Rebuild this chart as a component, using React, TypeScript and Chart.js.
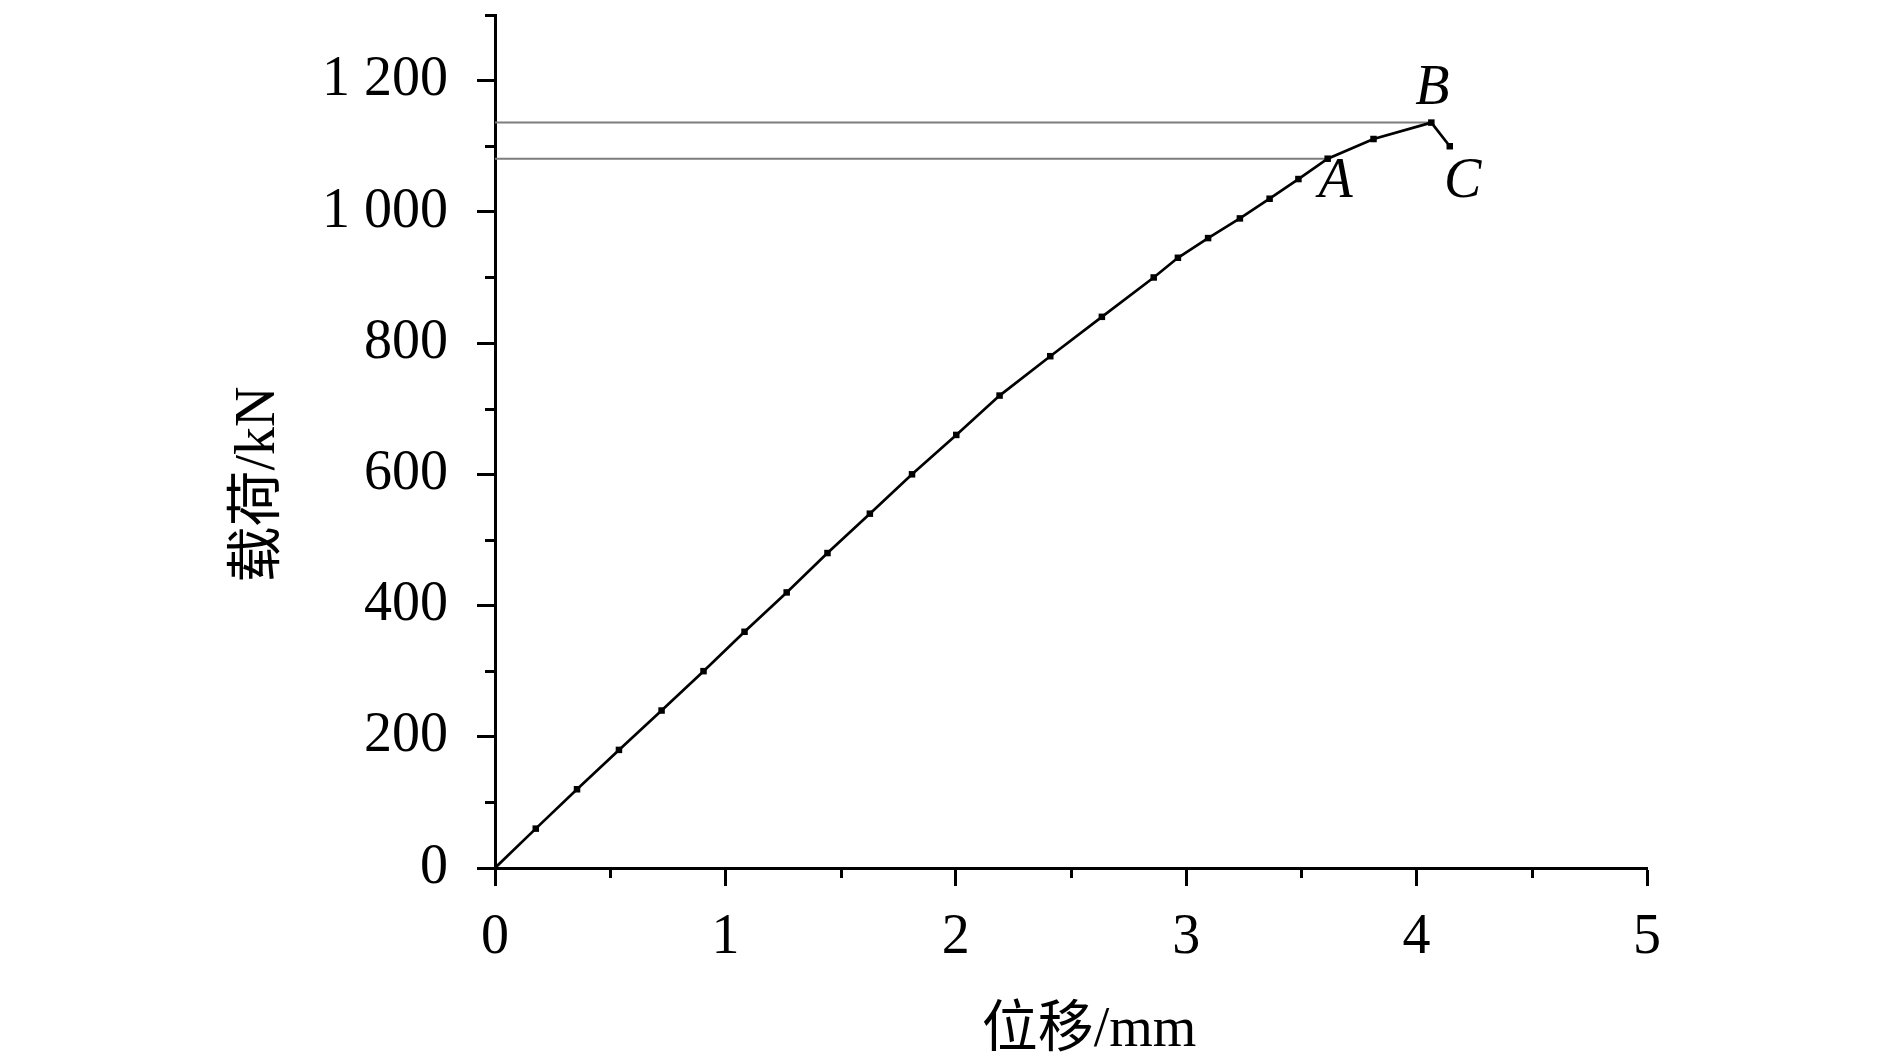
import React, { useEffect, useRef } from 'react';
import { Chart, registerables } from 'chart.js';

Chart.register(...registerables);

// ---- data ----
const displacement = [
  0, 0.177, 0.356, 0.538, 0.723, 0.905, 1.083, 1.266, 1.443, 1.627, 1.81, 2.002,
  2.19, 2.41, 2.634, 2.859, 2.964, 3.095, 3.233, 3.362, 3.487, 3.614, 3.813, 4.064, 4.144,
];
const load = [
  0, 60, 120, 180, 240, 300, 360, 420, 480, 540, 600, 660, 720, 780, 840, 900, 930,
  960, 990, 1020, 1050, 1081, 1111, 1136, 1100,
];
const xTickLabels = ['0', '1', '2', '3', '4', '5'];
const yTickLabels = ['0', '200', '400', '600', '800', '1 000', '1 200'];
const xMinorTicks = [0.5, 1.5, 2.5, 3.5, 4.5];
const yMinorTicks = [100, 300, 500, 700, 900, 1100, 1300];
const markLabels = ['A', 'B', 'C'];
const markIndices = [21, 23, 24];
const refLineIndices = [21, 23];
const xTitle = '位移/mm';
const yTitle = '载荷/kN';

const SERIF = '"Liberation Serif", "Times New Roman", "Noto Sans CJK SC", serif';

const decorPlugin = {
  id: 'decor',
  afterDraw(chart: any) {
    const { ctx, chartArea, scales } = chart;
    const x = scales.x;
    const y = scales.y;
    ctx.save();
    ctx.strokeStyle = '#000';
    ctx.lineWidth = 3;
    ctx.lineCap = 'butt';
    // minor ticks
    xMinorTicks.forEach((v) => {
      const px = Math.round(x.getPixelForValue(v)) + 0.5;
      ctx.beginPath();
      ctx.moveTo(px, chartArea.bottom);
      ctx.lineTo(px, chartArea.bottom + 10);
      ctx.stroke();
    });
    yMinorTicks.forEach((v) => {
      const py = Math.round(y.getPixelForValue(v)) + 0.5;
      ctx.beginPath();
      ctx.moveTo(chartArea.left, py);
      ctx.lineTo(chartArea.left - 10, py);
      ctx.stroke();
    });
    // point labels A, B, C
    ctx.fillStyle = '#000';
    ctx.font = 'italic 56px ' + SERIF;
    ctx.textAlign = 'center';
    ctx.textBaseline = 'alphabetic';
    const offsets: Record<string, [number, number]> = { A: [8, 20], B: [1, -37], C: [13, 32] };
    markLabels.forEach((lab, i) => {
      const idx = markIndices[i];
      const px = x.getPixelForValue(displacement[idx]);
      const py = y.getPixelForValue(load[idx]);
      const [dx, dy] = offsets[lab];
      ctx.fillText(lab, px + dx, py + dy + 18.5);
    });
    // axis titles
    ctx.font = '56px ' + SERIF;
    ctx.textAlign = 'center';
    ctx.textBaseline = 'middle';
    ctx.fillText(xTitle, (chartArea.left + chartArea.right) / 2 + 18, chartArea.bottom + 163);
    ctx.save();
    ctx.translate(chartArea.left - 236, (chartArea.top + chartArea.bottom) / 2 + 43);
    ctx.rotate(-Math.PI / 2);
    ctx.fillText(yTitle, 0, 0);
    ctx.restore();
    ctx.restore();
  },
};

export default function App() {
  const ref = useRef<HTMLCanvasElement | null>(null);

  useEffect(() => {
    if (!ref.current) return;
    const mainData = displacement.map((d, i) => ({ x: d, y: load[i] }));
    const refSets = refLineIndices.map((idx) => ({
      type: 'line' as const,
      data: [
        { x: 0, y: load[idx] },
        { x: displacement[idx], y: load[idx] },
      ],
      borderColor: 'rgb(125,125,125)',
      borderWidth: 2,
      pointRadius: 0,
      order: 2,
    }));
    const chart = new Chart(ref.current, {
      type: 'line',
      data: {
        datasets: [
          {
            data: mainData,
            borderColor: '#000',
            backgroundColor: '#000',
            borderWidth: 2.7,
            pointStyle: 'rect',
            pointRadius: (c: any) => (c.dataIndex === 0 ? 0 : 4.6),
            pointBorderWidth: 0,
            tension: 0,
            order: 1,
          },
          ...refSets,
        ] as any,
      },
      options: {
        animation: false,
        responsive: true,
        maintainAspectRatio: false,
        parsing: false as any,
        layout: { padding: { top: 15, right: 243, left: 0, bottom: 0 } },
        plugins: { legend: { display: false }, tooltip: { enabled: false } },
        scales: {
          x: {
            type: 'linear',
            min: 0,
            max: 5,
            afterFit: (s: any) => {
              s.height = 195;
              s.paddingLeft = 0;
              s.paddingRight = 0;
            },
            ticks: {
              stepSize: 1,
              includeBounds: false,
              padding: 19,
              color: '#000',
              font: { family: SERIF, size: 56 },
              callback: (_v: any, i: number) => xTickLabels[i],
              maxRotation: 0,
              autoSkip: false,
            },
            grid: {
              drawOnChartArea: false,
              drawTicks: true,
              tickLength: 18,
              tickWidth: 3,
              tickColor: '#000',
            },
            border: { display: true, color: '#000', width: 3 },
          },
          y: {
            type: 'linear',
            min: 0,
            max: 1300,
            afterFit: (s: any) => {
              s.width = 495;
              s.paddingTop = 0;
              s.paddingBottom = 0;
            },
            ticks: {
              stepSize: 200,
              includeBounds: false,
              padding: 29,
              color: '#000',
              font: { family: SERIF, size: 56 },
              callback: (_v: any, i: number) => yTickLabels[i],
              autoSkip: false,
            },
            grid: {
              drawOnChartArea: false,
              drawTicks: true,
              tickLength: 18,
              tickWidth: 3,
              tickColor: '#000',
            },
            border: { display: true, color: '#000', width: 3 },
          },
        },
      } as any,
      plugins: [decorPlugin],
    });
    return () => chart.destroy();
  }, []);

  return (
    <div
      style={{
        position: 'fixed',
        left: 0,
        top: 0,
        width: 1890,
        height: 1063,
        background: '#fff',
      }}
    >
      <canvas ref={ref} />
    </div>
  );
}
